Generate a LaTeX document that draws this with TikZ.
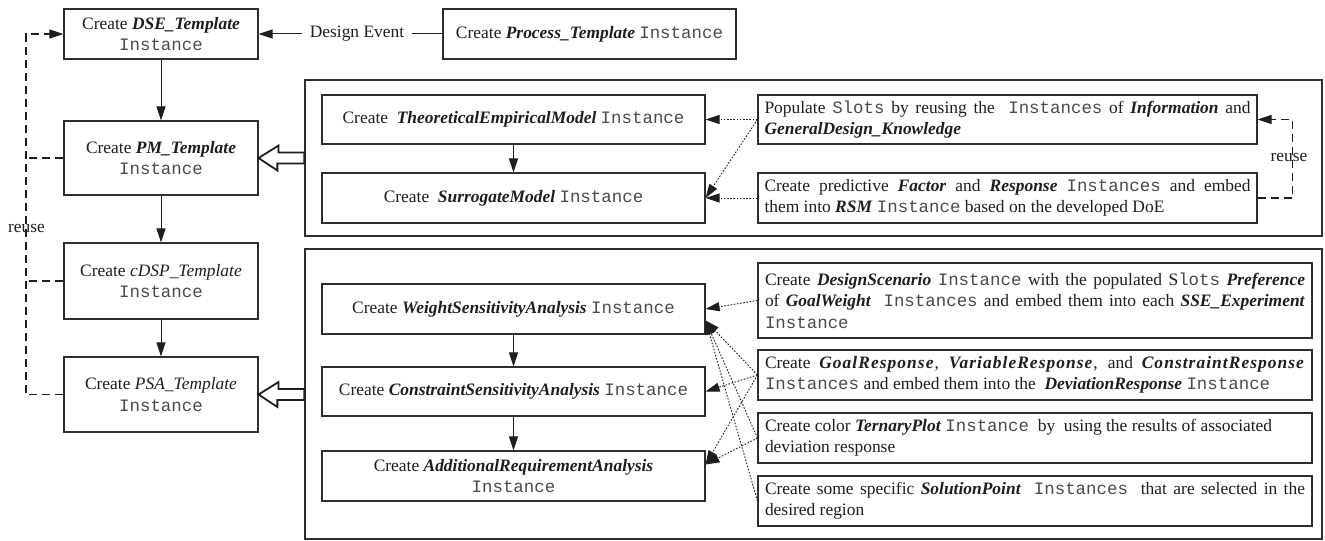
\documentclass[tikz,border=0pt]{standalone}
\usepackage{fontspec}
\setmainfont{Liberation Serif}
\setmonofont{Liberation Mono}
\usetikzlibrary{arrows.meta,calc}

\definecolor{ink}{HTML}{1E1E1E}
\definecolor{edge}{HTML}{2E2E2E}
\definecolor{monoink}{HTML}{4A4A4A}

% bold italic class names, a letter-spaced variant, and monospaced ontology terms
\newcommand{\bi}[1]{\textbf{\textit{#1}}}
\newcommand{\bis}[1]{\textbf{\textit{\addfontfeature{LetterSpace=6}#1}}}
\newcommand{\inst}[1]{{\color{monoink}\texttt{#1}}}

\tikzset{
  txt/.style={text=ink, font=\fontsize{17.5}{21.5}\selectfont},
  tbox/.style={txt, draw=edge, line width=1.1bp, inner sep=0pt, align=center},
  jbox/.style={txt, draw=edge, line width=1.1bp, inner ysep=0pt, align=justify},
  group/.style={draw=edge, line width=1.2bp, inner sep=0pt},
  tip/.style={-{Triangle[length=14bp,width=9bp]}},
  flow/.style={ink, line width=1bp, tip},
  dots/.style={ink, line width=0.9bp, dash pattern=on 1.6bp off 1.6bp, tip},
  reuseline/.style={ink, line width=1.1bp, dash pattern=on 8bp off 5bp},
  hollow/.style={draw=ink, line width=1.8bp, line join=miter, fill=white},
  lbl/.style={txt, inner sep=0pt},
}

\begin{document}
\begin{tikzpicture}[x=1bp, y=-1bp]
\useasboundingbox (0,0) rectangle (1325,541);

% ---- template chain ----
\node[tbox, minimum width=194bp, minimum height=50bp] (dse) at (161,34)
  {Create \bi{DSE\_Template}\\\inst{Instance}};
\node[tbox, minimum width=194bp, minimum height=74bp] (pm) at (161,158)
  {Create \bi{PM\_Template}\\\inst{Instance}};
\node[tbox, minimum width=194bp, minimum height=76bp] (cdsp) at (161,281)
  {Create \textit{cDSP\_Template}\\\inst{Instance}};
\node[tbox, minimum width=194bp, minimum height=75bp] (psa) at (161,394.5)
  {Create \textit{PSA\_Template}\\\inst{Instance}};

\node[tbox, minimum width=293bp, minimum height=50bp] (proc) at (589.5,34)
  {Create \bi{Process\_Template} \inst{Instance}};
\node[lbl, inner xsep=8bp] (event) at (357,34) {Design Event};

\draw[ink, line width=1bp] (proc.west) -- (event.east);
\draw[flow] (event.west) -- (dse.east);
\draw[flow] (dse) -- (pm);
\draw[flow] (pm) -- (cdsp);
\draw[flow] (cdsp) -- (psa);

% ---- reuse loop on the left ----
\coordinate (rail) at (26,0);
\draw[reuseline, tip] (psa.west) -- (psa.west -| rail) |- (dse.west);
\draw[reuseline] (pm.west) -- (pm.west -| rail);
\draw[reuseline] (cdsp.west) -- (cdsp.west -| rail);
\node[lbl] (reuseL) at (26.5,228) {reuse};

% ---- group frames ----
\node[group, minimum width=1017bp, minimum height=156bp] (upper) at (813.5,158) {};
\node[group, minimum width=1017bp, minimum height=290bp] (lower) at (813.5,394) {};

% ---- model group ----
\node[tbox, minimum width=383bp, minimum height=49bp] (tem) at (513.5,119.5)
  {Create\ \ \bi{TheoreticalEmpiricalModel} \inst{Instance}};
\node[tbox, minimum width=383bp, minimum height=50bp] (sm) at (513.5,198)
  {Create\ \ \bi{SurrogateModel} \inst{Instance}};
\draw[flow] (tem) -- (sm);

\node[jbox, text width=486bp, inner xsep=6.5bp, minimum height=49bp] (p1) at (1007.5,119.5)
  {Populate \inst{Slots} by reusing the\ \ \inst{Instances} of \bi{Information} and\linebreak
   \bi{GeneralDesign\_Knowledge}};
\node[jbox, text width=486bp, inner xsep=6.5bp, minimum height=50bp] (p2) at (1007.5,198)
  {Create predictive \bi{Factor} and \bi{Response} \inst{Instances} and embed\linebreak
   them into \bi{RSM} \inst{Instance} based on the developed DoE};

\draw[dots] (p1.west) -- (tem.east);
\draw[dots] (p1.west) -- (sm.east);
\draw[dots] (p2.west) -- (sm.east);

\draw[reuseline, tip] (p2.east) -- ++(35,0) |- (p1.east);
\node[lbl] (reuseR) at (1289,157) {reuse};

% ---- analysis group ----
\node[tbox, minimum width=383bp, minimum height=50bp] (wsa) at (513.5,309)
  {Create \bi{WeightSensitivityAnalysis} \inst{Instance}};
\node[tbox, minimum width=383bp, minimum height=49bp] (csa) at (513.5,391.5)
  {Create \bi{ConstraintSensitivityAnalysis} \inst{Instance}};
\node[tbox, minimum width=383bp, minimum height=50bp] (ara) at (513.5,476)
  {Create \bi{AdditionalRequirementAnalysis}\\\inst{Instance}};
\draw[flow] (wsa) -- (csa);
\draw[flow] (csa) -- (ara);

\node[jbox, text width=540bp, inner xsep=7bp, minimum height=75bp] (d1) at (1035,300.5)
  {Create \bi{DesignScenario} \inst{Instance} with the populated S\inst{lots} \bi{Preference}\linebreak
   of \bi{GoalWeight}\ \ \inst{Instances} and embed them into each \bi{SSE\_Experiment}\linebreak
   \inst{Instance}};
\node[jbox, text width=540bp, inner xsep=7bp, minimum height=50bp] (d2) at (1035,375)
  {Create \bis{GoalResponse}, \bis{VariableResponse}, and \bis{ConstraintResponse}\linebreak
   \inst{Instances} and embed them into the\ \ \bi{DeviationResponse} \inst{Instance}};
\node[jbox, text width=540bp, inner xsep=7bp, minimum height=50bp] (d3) at (1035,438)
  {Create color \bi{TernaryPlot} \inst{Instance}\ \ by\ \ using the results of associated\\
   deviation response};
\node[jbox, text width=540bp, inner xsep=7bp, minimum height=50bp] (d4) at (1035,501)
  {Create some specific \bi{SolutionPoint}\ \ \inst{Instances}\ \ that are selected in the\linebreak
   desired region};

\coordinate (wsaIn) at ($(wsa.east)!0.45!(wsa.south east)$);
\coordinate (araIn) at ($(ara.east)!0.45!(ara.north east)$);
\draw[dots] (d1.west) -- (wsa.east);
\draw[dots] (d2.west) -- (wsaIn);
\draw[dots] (d3.west) -- (wsaIn);
\draw[dots] (d4.west) -- (wsaIn);
\draw[dots] (d2.west) -- (csa.east);
\draw[dots] (d2.west) -- (araIn);
\draw[dots] (d3.west) -- (araIn);

% ---- hollow arrows from the groups into the chain ----
\draw[hollow] (pm.east) -- ++(20,-12.5) -- ++(0,7) -- (upper.west |- 0,152.5)
  -- (upper.west |- 0,163.5) -- ++(-27,0) -- ++(0,7) -- cycle;
\draw[hollow] (psa.east) -- ++(20,-12.5) -- ++(0,7) -- (lower.west |- 0,389)
  -- (lower.west |- 0,400) -- ++(-27,0) -- ++(0,7) -- cycle;
\end{tikzpicture}
\end{document}
